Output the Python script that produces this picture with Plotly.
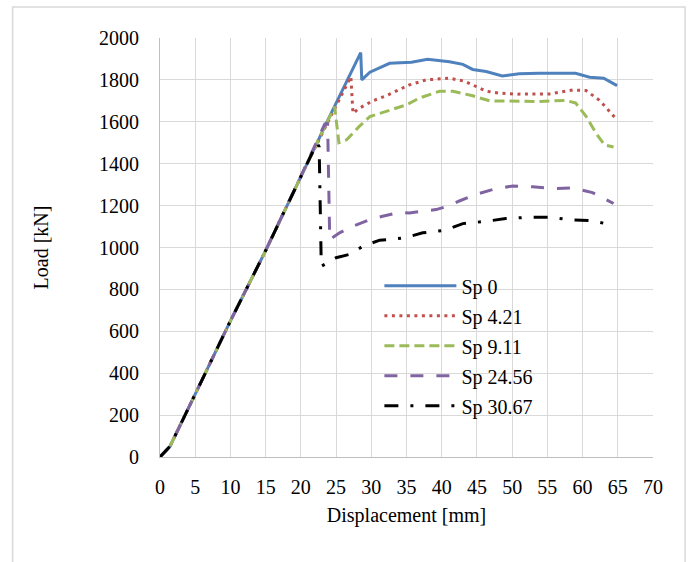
import plotly.graph_objects as go

# Data (Displacement [mm], Load [kN])
x_sp0 = [0, 1.4, 5, 10, 15, 20, 24, 28.5, 28.65, 29.8, 32.6, 35.7, 38.0, 41.1, 43.0, 44.4, 46.3, 48.6, 51.0, 53.8, 59.0, 61.0, 63.0, 64.9]
y_sp0 = [0, 50, 300, 650, 985, 1340, 1620, 1930, 1800, 1837, 1879, 1884, 1899, 1887, 1874, 1850, 1840, 1819, 1829, 1832, 1832, 1813, 1808, 1773]

x_sp421 = [0, 1.4, 5, 10, 15, 20, 24, 27.1, 27.4, 28.3, 30.2, 32.1, 35.4, 37.8, 41.1, 43.2, 44.4, 46.3, 48.2, 50.5, 53.8, 55.3, 58.6, 60.5, 62.3, 63.3, 64.8]
y_sp421 = [0, 50, 300, 650, 985, 1340, 1610, 1815, 1641, 1665, 1700, 1724, 1776, 1800, 1808, 1794, 1776, 1746, 1737, 1732, 1733, 1733, 1752, 1749, 1705, 1670, 1612]

x_sp911 = [0, 1.4, 5, 10, 15, 20, 23, 24.8, 25.4, 26.5, 28.3, 29.8, 32.6, 35.0, 36.8, 39.7, 41.6, 44.4, 46.8, 50.1, 53.8, 57.6, 59.0, 60.5, 61.9, 63.1, 64.4]
y_sp911 = [0, 50, 300, 650, 985, 1340, 1550, 1672, 1500, 1514, 1578, 1625, 1657, 1681, 1713, 1746, 1746, 1724, 1700, 1697, 1697, 1702, 1690, 1626, 1546, 1490, 1480]

x_sp2456 = [0, 1.4, 5, 10, 15, 20, 23.4, 23.8, 24.1, 25.5, 27.4, 29.8, 31.6, 34.0, 35.4, 37.3, 39.2, 41.1, 42.5, 44.9, 47.7, 50.1, 52.9, 55.7, 58.6, 61.4, 64.4]
y_sp2456 = [0, 50, 300, 650, 985, 1340, 1590, 1590, 1038, 1070, 1102, 1133, 1149, 1168, 1165, 1173, 1181, 1200, 1222, 1254, 1281, 1294, 1290, 1281, 1285, 1262, 1210]

x_sp3067 = [0, 1.4, 5, 10, 15, 20, 22.3, 22.6, 22.9, 25.0, 26.9, 28.8, 31.2, 32.6, 34.7, 37.3, 40.4, 43.0, 46.3, 49.1, 52.2, 55.3, 58.1, 61.4, 64.4]
y_sp3067 = [0, 50, 300, 650, 985, 1340, 1500, 1480, 910, 951, 967, 1006, 1035, 1038, 1046, 1070, 1082, 1114, 1125, 1138, 1144, 1144, 1133, 1128, 1105]

names = ["Sp 0", "Sp 4.21", "Sp 9.11", "Sp 24.56", "Sp 30.67"]
x_ticks = list(range(0, 71, 5))
y_ticks = list(range(0, 2001, 200))

series = [
    (x_sp0, y_sp0, "#4F81BD", "solid"),
    (x_sp421, y_sp421, "#C0504D", "3px,4.5px"),
    (x_sp911, y_sp911, "#9BBB59", "10px,5px"),
    (x_sp2456, y_sp2456, "#8064A2", "13px,13px"),
    (x_sp3067, y_sp3067, "#000000", "14px,12px,3px,12px"),
]

FONT = "Liberation Serif"

fig = go.Figure()
for (xs, ys, col, dash), nm in zip(series, names):
    fig.add_trace(go.Scatter(
        x=xs, y=ys, mode="lines", name=nm, legendgroup=nm,
        line=dict(color=col, width=3, dash=dash),
    ))

fig.update_layout(
    width=699, height=562,
    margin=dict(l=160, r=46, t=38, b=105),
    paper_bgcolor="white", plot_bgcolor="white",
    font=dict(family=FONT, size=20, color="#000000"),
    showlegend=True,
    legend=dict(
        x=0.445, y=0.455, xanchor="left", yanchor="top",
        bgcolor="rgba(0,0,0,0)", font=dict(family=FONT, size=20),
        tracegroupgap=1, itemwidth=72,
    ),
    xaxis=dict(
        range=[0, 70], tickvals=x_ticks, ticktext=[str(v) for v in x_ticks],
        showgrid=True, gridcolor="#D9D9D9", gridwidth=1,
        showline=True, linecolor="#BFBFBF", linewidth=1, mirror=False,
        zeroline=False, ticks="", ticklabelstandoff=12,
        title=dict(text="Displacement [mm]", font=dict(family=FONT, size=20), standoff=10),
    ),
    yaxis=dict(
        range=[0, 2000], tickvals=y_ticks, ticktext=[str(v) for v in y_ticks],
        showgrid=True, gridcolor="#D9D9D9", gridwidth=1,
        showline=True, linecolor="#BFBFBF", linewidth=1,
        zeroline=False, ticks="", ticklabelstandoff=16,
        title=dict(text="Load [kN]", font=dict(family=FONT, size=20), standoff=45),
    ),
    shapes=[dict(
        type="rect", xref="paper", yref="paper",
        x0=-0.299, x1=1.065, y0=-0.3, y1=1.074,
        line=dict(color="#D9D9D9", width=1.5), fillcolor="rgba(0,0,0,0)", layer="below",
    )],
)

fig.write_html("out.html", config={"displayModeBar": False},
               post_script="document.body.style.margin='0';document.body.style.overflow='hidden';")
